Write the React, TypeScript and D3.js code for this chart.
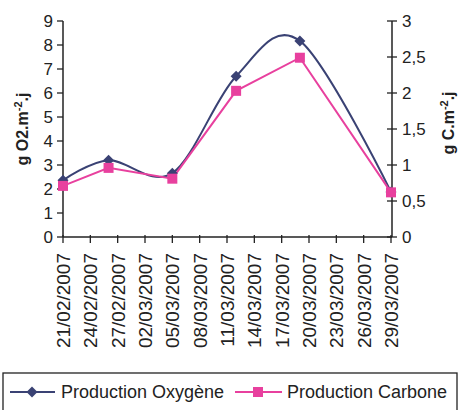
import React from "react";
import * as d3 from "d3";

const dates = ["2007-02-21", "2007-02-26", "2007-03-05", "2007-03-12", "2007-03-19", "2007-03-29"];
const oxygen = [2.36, 3.2, 2.66, 6.7, 8.17, 1.88];
const carbon = [0.71, 0.96, 0.81, 2.03, 2.49, 0.62];
const leftTicks = [0, 1, 2, 3, 4, 5, 6, 7, 8, 9];
const rightTicks = [0, 0.5, 1, 1.5, 2, 2.5, 3];
const seriesNames = ["Production Oxygène", "Production Carbone"];

const W = 461, H = 410;
const M = { left: 63, right: 391, top: 21, bottom: 237 };
const FONT = "Liberation Sans, Arial, sans-serif";
const NAVY = "#3a4274";
const PINK = "#e8409e";

export default function App() {
  const parse = d3.timeParse("%Y-%m-%d");
  const dts = dates.map((d) => parse(d) as Date);
  const start = parse("2007-02-21") as Date;
  const end = parse("2007-03-29") as Date;
  const x = d3.scaleTime().domain([start, end]).range([M.left, M.right]);
  const yL = d3.scaleLinear().domain([0, 9]).range([M.bottom, M.top]);
  const yR = d3.scaleLinear().domain([0, 3]).range([M.bottom, M.top]);
  const xTicks = d3.timeDay.range(start, d3.timeDay.offset(end, 1), 3);
  const fmt = d3.timeFormat("%d/%m/%Y");

  const oxLine = d3
    .line<number>()
    .x((_, i) => x(dts[i]))
    .y((v) => yL(v))
    .curve(d3.curveCardinal.tension(0))(oxygen) as string;
  const cLine = d3
    .line<number>()
    .x((_, i) => x(dts[i]))
    .y((v) => yR(v))(carbon) as string;

  const diamond = (cx: number, cy: number, r: number) =>
    `M${cx},${cy - r}L${cx + r},${cy}L${cx},${cy + r}L${cx - r},${cy}Z`;

  return (
    <svg
      width={W}
      height={H}
      style={{ position: "absolute", left: 0, top: 0, background: "#fff" }}
      fontFamily={FONT}
    >
      <rect x={0} y={0} width={W} height={H} fill="#fff" />
      {/* left axis */}
      <line x1={M.left} x2={M.left} y1={M.top} y2={M.bottom} stroke="#222" strokeWidth={1.5} />
      {leftTicks.map((t) => (
        <g key={"l" + t}>
          <line x1={M.left - 6} x2={M.left} y1={yL(t)} y2={yL(t)} stroke="#222" strokeWidth={1.3} />
          <text x={M.left - 10} y={yL(t)} dy="0.36em" textAnchor="end" fontSize={17} fill="#222">
            {t}
          </text>
        </g>
      ))}
      {/* right axis */}
      <line x1={M.right + 1} x2={M.right + 1} y1={M.top} y2={M.bottom} stroke="#222" strokeWidth={1.5} />
      {rightTicks.map((t) => (
        <g key={"r" + t}>
          <line x1={M.right - 4} x2={M.right + 6} y1={yR(t)} y2={yR(t)} stroke="#222" strokeWidth={1.3} />
          <text x={M.right + 11} y={yR(t)} dy="0.36em" textAnchor="start" fontSize={17} fill="#222">
            {String(t).replace(".", ",")}
          </text>
        </g>
      ))}
      {/* x axis */}
      <line x1={M.left} x2={M.right + 1} y1={M.bottom} y2={M.bottom} stroke="#222" strokeWidth={1.5} />
      {xTicks.map((d, i) => (
        <g key={"x" + i}>
          <line x1={x(d)} x2={x(d)} y1={M.bottom - 2} y2={M.bottom + 6} stroke="#222" strokeWidth={1.3} />
          <text
            transform={`translate(${x(d) + 7},${M.bottom + 16}) rotate(-90)`}
            textAnchor="end"
            fontSize={19}
            fill="#222"
          >
            {fmt(d)}
          </text>
        </g>
      ))}
      {/* axis titles */}
      <text
        transform={`translate(28,129) rotate(-90)`}
        textAnchor="middle"
        fontSize={16}
        fontWeight="bold"
        fill="#222"
      >
        g O2.m<tspan dy={-6} fontSize={11}>-2</tspan>
        <tspan dy={6}>.j</tspan>
      </text>
      <text
        transform={`translate(454,123) rotate(-90)`}
        textAnchor="middle"
        fontSize={16}
        fontWeight="bold"
        fill="#222"
      >
        g C.m<tspan dy={-6} fontSize={11}>-2</tspan>
        <tspan dy={6}>.j</tspan>
      </text>
      {/* series */}
      <path d={oxLine} fill="none" stroke={NAVY} strokeWidth={2} />
      <path d={cLine} fill="none" stroke={PINK} strokeWidth={2} />
      {oxygen.map((v, i) => (
        <path key={"o" + i} d={diamond(x(dts[i]), yL(v), 5.5)} fill={NAVY} />
      ))}
      {carbon.map((v, i) => (
        <rect key={"c" + i} x={x(dts[i]) - 5} y={yR(v) - 5} width={10} height={10} fill={PINK} />
      ))}
      {/* legend */}
      <rect x={3} y={373} width={454} height={45} fill="#fff" stroke="#222" strokeWidth={1.3} />
      <line x1={10} x2={55} y1={392} y2={392} stroke={NAVY} strokeWidth={2} />
      <path d={diamond(32, 392, 5.5)} fill={NAVY} />
      <text x={61} y={398} fontSize={18} fill="#222">
        {seriesNames[0]}
      </text>
      <line x1={235} x2={282} y1={392} y2={392} stroke={PINK} strokeWidth={2} />
      <rect x={253} y={387} width={10} height={10} fill={PINK} />
      <text x={287} y={398} fontSize={18} fill="#222">
        {seriesNames[1]}
      </text>
    </svg>
  );
}
